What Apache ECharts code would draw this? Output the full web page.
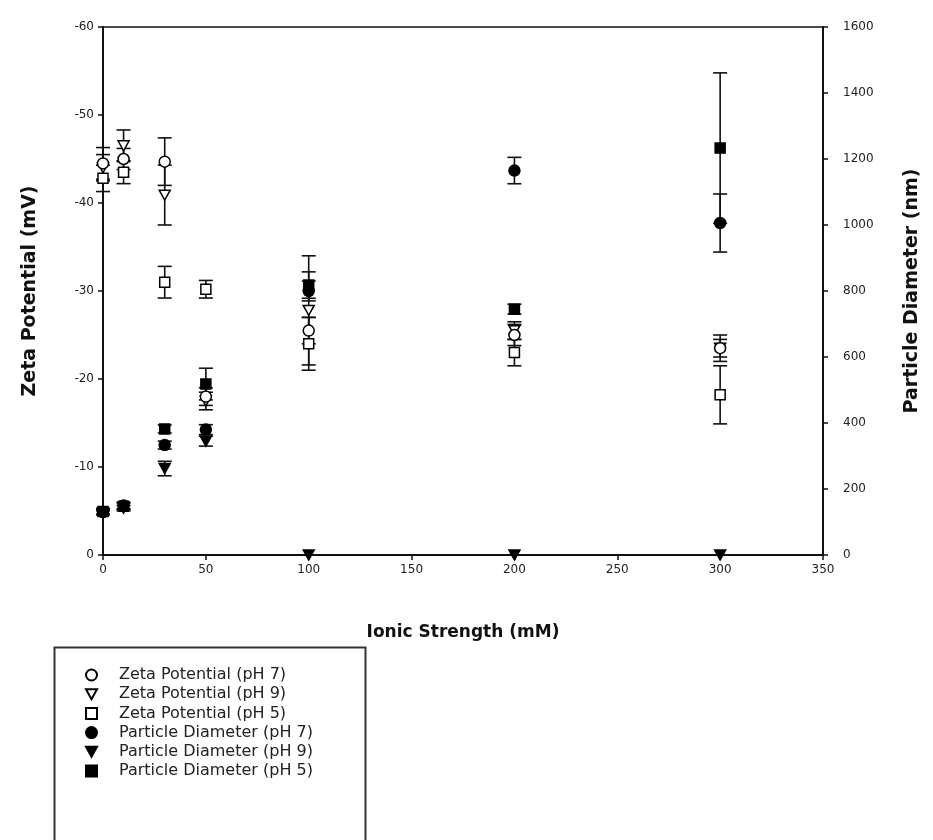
<!DOCTYPE html>
<html>
<head>
<meta charset="utf-8">
<script src="https://cdn.jsdelivr.net/npm/echarts@6/dist/echarts.min.js"></script>
<style>
  html, body { margin: 0; padding: 0; background: #fff; }
  #chart { width: 933px; height: 840px; }
</style>
</head>
<body>
<div id="chart"></div>
<script>
// Ionic strength (mM) at which each sample was measured
const ionicStrength = [0, 10, 30, 50, 100, 200, 300];

// Tick values for the three axes
const ionicTicks = [0, 50, 100, 150, 200, 250, 300, 350];
const zetaTicks = [-60, -50, -40, -30, -20, -10, 0];
const diameterTicks = [0, 200, 400, 600, 800, 1000, 1200, 1400, 1600];

// Zeta potential (mV) and standard deviation
const zetaPH7 = [-44.5, -45.0, -44.7, -18.0, -25.5, -25.0, -23.5];
const zetaPH7Err = [1.8, 1.2, 2.7, 1.0, 1.5, 1.2, 1.5];
const zetaPH9 = [-44.0, -46.5, -40.9, -17.5, -27.8, -25.5, -23.5];
const zetaPH9Err = [1.5, 1.8, 3.4, 1.0, 6.2, 1.0, 1.0];
const zetaPH5 = [-42.8, -43.5, -31.0, -30.2, -24.0, -23.0, -18.2];
const zetaPH5Err = [1.5, 1.3, 1.8, 1.0, 3.0, 1.5, 3.3];

// Particle diameter (nm) and standard deviation
const diamPH7 = [130, 150, 333, 380, 800, 1165, 1006];
const diamPH7Err = [8, 10, 12, 15, 30, 40, 88];
const diamPH9 = [128, 142, 262, 345, 0, 0, 0];
const diamPH9Err = [6, 8, 22, 15, 0, 0, 0];
const diamPH5 = [132, 148, 382, 518, 818, 745, 1233];
const diamPH5Err = [8, 10, 12, 48, 40, 15, 228];

const seriesNames = [
  'Zeta Potential (pH 7)',
  'Zeta Potential (pH 9)',
  'Zeta Potential (pH 5)',
  'Particle Diameter (pH 7)',
  'Particle Diameter (pH 9)',
  'Particle Diameter (pH 5)'
];

const INK = '#111';
const FONT = '"DejaVu Sans", "Liberation Sans", Arial, sans-serif';
// Downward-pointing triangle used for the pH 9 series
const TRI_DOWN = 'path://M0,0 L10,0 L5,9 Z';

function pairs(values) {
  return ionicStrength.map((x, i) => [x, values[i]]);
}

// Vertical error bar with caps, drawn through the axis scales
function errorBars(id, yAxisIndex, values, errs) {
  return {
    type: 'custom',
    name: id,
    yAxisIndex: yAxisIndex,
    silent: true,
    z: 2,
    clip: false,
    data: ionicStrength.map((x, i) => [x, values[i] - errs[i], values[i] + errs[i]]),
    encode: { x: 0, y: [1, 2] },
    renderItem: function (params, api) {
      const x = api.value(0);
      const lowV = api.value(1);
      const highV = api.value(2);
      if (lowV === highV) return null;
      const lo = api.coord([x, lowV]);
      const hi = api.coord([x, highV]);
      const hw = 7;
      const st = { stroke: INK, lineWidth: 1.6 };
      return {
        type: 'group',
        children: [
          { type: 'line', shape: { x1: lo[0], y1: lo[1], x2: hi[0], y2: hi[1] }, style: st },
          { type: 'line', shape: { x1: lo[0] - hw, y1: lo[1], x2: lo[0] + hw, y2: lo[1] }, style: st },
          { type: 'line', shape: { x1: hi[0] - hw, y1: hi[1], x2: hi[0] + hw, y2: hi[1] }, style: st }
        ]
      };
    }
  };
}

function markers(name, yAxisIndex, values, symbol, filled) {
  return {
    type: 'scatter',
    name: name,
    yAxisIndex: yAxisIndex,
    symbol: symbol,
    symbolSize: symbol === 'rect' ? 10 : 11,
    symbolKeepAspect: true,
    clip: false,
    z: 3,
    itemStyle: {
      color: filled ? '#000' : '#fff',
      borderColor: '#000',
      borderWidth: 1.5,
      opacity: 1
    },
    emphasis: { disabled: true },
    data: pairs(values)
  };
}

const chart = echarts.init(document.getElementById('chart'), null, { renderer: 'canvas' });

const axisLineStyle = { show: true, lineStyle: { color: INK, width: 2 } };
const tickStyle = { show: true, inside: false, length: 5, lineStyle: { color: INK, width: 1.5 } };
const labelStyle = { color: '#222', fontSize: 12, fontFamily: FONT };
const titleStyle = { color: '#111', fontWeight: 'bold', fontFamily: FONT };

chart.setOption({
  backgroundColor: '#fff',
  animation: false,
  grid: {
    left: 103, right: 110, top: 27, bottom: 285,
    show: true, borderColor: INK, borderWidth: 1.5, backgroundColor: 'transparent'
  },
  xAxis: {
    type: 'value',
    min: ionicTicks[0],
    max: ionicTicks[ionicTicks.length - 1],
    interval: ionicTicks[1] - ionicTicks[0],
    axisLine: axisLineStyle,
    axisTick: tickStyle,
    splitLine: { show: false },
    axisLabel: Object.assign({ margin: 9 }, labelStyle),
    name: 'Ionic Strength (mM)',
    nameLocation: 'middle',
    nameGap: 69,
    nameTextStyle: Object.assign({ fontSize: 17 }, titleStyle)
  },
  yAxis: [
    {
      type: 'value',
      position: 'left',
      inverse: true,
      min: zetaTicks[0],
      max: zetaTicks[zetaTicks.length - 1],
      interval: zetaTicks[1] - zetaTicks[0],
      axisLine: axisLineStyle,
      axisTick: tickStyle,
      splitLine: { show: false },
      axisLabel: Object.assign({ margin: 9 }, labelStyle),
      name: 'Zeta Potential (mV)',
      nameLocation: 'middle',
      nameRotate: 90,
      nameGap: 63,
      nameTextStyle: Object.assign({ fontSize: 19 }, titleStyle)
    },
    {
      type: 'value',
      position: 'right',
      min: diameterTicks[0],
      max: diameterTicks[diameterTicks.length - 1],
      interval: diameterTicks[1] - diameterTicks[0],
      axisLine: axisLineStyle,
      axisTick: tickStyle,
      splitLine: { show: false },
      axisLabel: Object.assign({ margin: 20, formatter: v => String(v) }, labelStyle),
      name: 'Particle Diameter (nm)',
      nameLocation: 'middle',
      nameRotate: 90,
      nameGap: 80,
      nameTextStyle: Object.assign({ fontSize: 19 }, titleStyle)
    }
  ],
  legend: {
    orient: 'vertical',
    left: 52,
    top: 645,
    padding: [22, 10, 10, 33],
    itemWidth: 11,
    itemHeight: 11,
    itemGap: 3.2,
    selectedMode: false,
    data: seriesNames,
    textStyle: {
      color: '#222',
      fontSize: 16,
      fontFamily: FONT,
      lineHeight: 16,
      padding: [0, 0, 0, 17]
    }
  },
  graphic: [
    {
      type: 'rect',
      left: 52,
      top: 645,
      shape: { width: 311, height: 215 },
      style: { fill: 'none', stroke: '#333', lineWidth: 2 },
      z: 0
    }
  ],
  series: [
    errorBars('zeta-ph7-sd', 0, zetaPH7, zetaPH7Err),
    errorBars('zeta-ph9-sd', 0, zetaPH9, zetaPH9Err),
    errorBars('zeta-ph5-sd', 0, zetaPH5, zetaPH5Err),
    errorBars('diam-ph7-sd', 1, diamPH7, diamPH7Err),
    errorBars('diam-ph9-sd', 1, diamPH9, diamPH9Err),
    errorBars('diam-ph5-sd', 1, diamPH5, diamPH5Err),
    markers(seriesNames[1], 0, zetaPH9, TRI_DOWN, false),
    markers(seriesNames[0], 0, zetaPH7, 'circle', false),
    markers(seriesNames[2], 0, zetaPH5, 'rect', false),
    markers(seriesNames[4], 1, diamPH9, TRI_DOWN, true),
    markers(seriesNames[3], 1, diamPH7, 'circle', true),
    markers(seriesNames[5], 1, diamPH5, 'rect', true)
  ]
});
</script>
</body>
</html>
